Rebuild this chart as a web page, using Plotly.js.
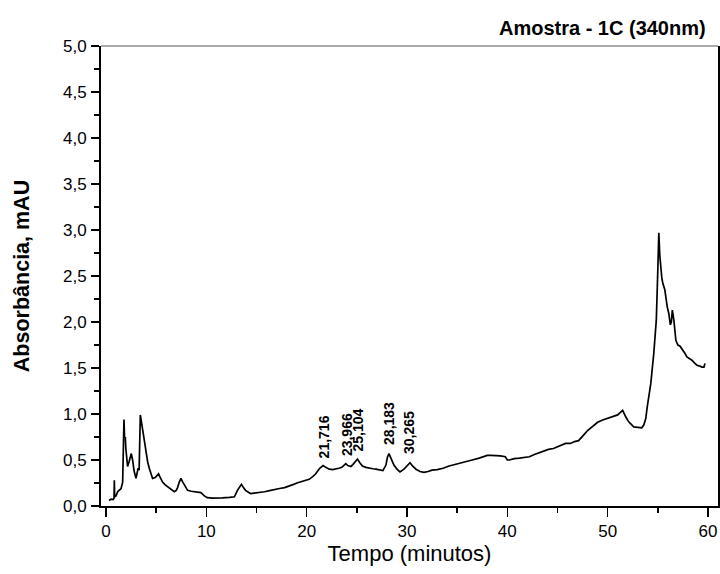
<!DOCTYPE html>
<html>
<head>
<meta charset="utf-8">
<script src="https://cdn.plot.ly/plotly-3.0.1.min.js"></script>
<style>html,body{margin:0;padding:0;background:#fff;}#chart{width:720px;height:574px;}</style>
</head>
<body>
<div id="chart"></div>
<script>
// Retention time (minutes)
var time = [0.3,0.5,0.7,0.8,0.83,0.86,1.0,1.16,1.3,1.5,1.66,1.72,1.79,1.85,1.92,1.98,2.05,2.15,2.3,2.42,2.52,2.65,2.8,2.99,3.1,3.2,3.3,3.42,3.55,3.65,3.8,3.98,4.15,4.31,4.5,4.64,4.9,5.05,5.24,5.4,5.64,5.9,6.14,6.5,6.8,7.0,7.13,7.3,7.47,7.65,7.8,8.13,8.5,8.96,9.2,9.46,9.8,10.1,10.6,11.1,11.6,12.3,12.8,13.1,13.3,13.5,13.7,13.9,14.4,14.9,15.3,15.8,16.3,16.8,17.3,17.8,18.3,18.7,19.1,19.7,20.25,20.6,20.9,21.3,21.64,21.9,22.25,22.6,22.9,23.2,23.5,23.7,23.9,24.1,24.4,24.6,24.85,25.06,25.3,25.56,25.9,26.2,26.6,26.9,27.3,27.6,27.9,28.05,28.2,28.45,28.7,29.0,29.3,29.7,30.0,30.3,30.6,30.9,31.3,31.7,32.1,32.5,33.0,33.6,34.2,34.8,35.3,35.9,36.5,37.2,37.6,38.0,38.4,38.8,39.3,39.8,40.0,40.2,40.7,41.2,41.7,42.2,42.7,43.2,43.6,44.1,44.6,45.1,45.5,45.8,46.3,46.7,47.1,47.3,47.6,48.0,48.5,49.0,49.5,50.0,50.5,51.0,51.3,51.5,51.8,52.1,52.6,53.1,53.4,53.6,53.8,53.95,54.1,54.3,54.6,54.85,55.0,55.1,55.2,55.28,55.4,55.5,55.7,55.94,56.1,56.25,56.35,56.45,56.6,56.8,57.0,57.2,57.4,57.7,57.9,58.2,58.4,58.7,58.9,59.2,59.4,59.6,59.7];
// Absorbance (mAU)
var absorbance = [0.06,0.075,0.07,0.085,0.28,0.10,0.11,0.155,0.17,0.19,0.26,0.55,0.94,0.74,0.75,0.62,0.50,0.43,0.48,0.54,0.57,0.50,0.38,0.30,0.36,0.41,0.39,0.99,0.90,0.83,0.70,0.57,0.48,0.41,0.34,0.30,0.31,0.33,0.35,0.31,0.26,0.23,0.21,0.18,0.155,0.17,0.20,0.26,0.30,0.26,0.23,0.17,0.16,0.155,0.15,0.145,0.11,0.09,0.085,0.083,0.088,0.094,0.10,0.17,0.21,0.235,0.20,0.17,0.135,0.14,0.145,0.155,0.167,0.175,0.19,0.20,0.217,0.235,0.253,0.27,0.29,0.32,0.35,0.41,0.44,0.42,0.40,0.395,0.40,0.41,0.42,0.44,0.46,0.44,0.43,0.45,0.49,0.51,0.47,0.435,0.42,0.41,0.405,0.40,0.395,0.385,0.445,0.53,0.57,0.50,0.445,0.40,0.37,0.40,0.44,0.47,0.43,0.40,0.375,0.365,0.375,0.39,0.395,0.41,0.435,0.45,0.465,0.48,0.50,0.52,0.535,0.55,0.55,0.55,0.545,0.535,0.50,0.50,0.515,0.52,0.525,0.535,0.56,0.58,0.595,0.615,0.625,0.645,0.66,0.68,0.68,0.70,0.71,0.73,0.77,0.82,0.87,0.91,0.935,0.955,0.97,0.99,1.02,1.04,0.97,0.915,0.86,0.855,0.85,0.88,0.95,1.08,1.18,1.33,1.66,2.02,2.56,2.97,2.72,2.60,2.48,2.42,2.35,2.165,2.09,1.97,2.00,2.13,2.02,1.80,1.75,1.74,1.71,1.66,1.62,1.60,1.585,1.55,1.53,1.52,1.51,1.51,1.55];
// Peak labels (retention time text) and label base heights
var peakTimes = [21.716, 23.966, 25.104, 28.183, 30.265];
var peakLabels = ["21,716", "23,966", "25,104", "28,183", "30,265"];
var peakLabelBase = [0.50, 0.52, 0.575, 0.645, 0.545];
var xTickVals = [0, 10, 20, 30, 40, 50, 60];
var yTickVals = [0, 0.5, 1, 1.5, 2, 2.5, 3, 3.5, 4, 4.5, 5];

var FONT = "Liberation Sans, Arial, Helvetica, sans-serif";

var trace = {
  x: time, y: absorbance, type: "scatter", mode: "lines",
  line: {color: "#000", width: 1.7}, hoverinfo: "skip"
};

var annotations = peakTimes.map(function (t, i) {
  return {
    x: t, y: peakLabelBase[i], xref: "x", yref: "y",
    text: peakLabels[i], textangle: -90, showarrow: false,
    xanchor: "center", yanchor: "bottom",
    font: {family: FONT, size: 14, color: "#000", weight: "bold"}
  };
});

var layout = {
  width: 720, height: 574,
  margin: {l: 101, r: 2, t: 46, b: 68},
  paper_bgcolor: "#fff", plot_bgcolor: "#fff",
  separators: ",.",
  showlegend: false,
  font: {family: FONT, color: "#000"},
  title: {
    text: "<b>Amostra - 1C (340nm)</b>",
    font: {family: FONT, size: 20, color: "#000"},
    xref: "paper", x: 0.98, xanchor: "right",
    yref: "container", y: 0.951, yanchor: "middle"
  },
  xaxis: {
    range: [-0.5, 61], tickvals: xTickVals, ticktext: xTickVals.map(String),
    showgrid: false, zeroline: false,
    showline: true, linecolor: "#000", linewidth: 2, mirror: false,
    ticks: "outside", ticklen: 9, tickwidth: 1.5, tickcolor: "#000",
    ticklabelstandoff: 0,
    minor: {dtick: 5, tick0: 0, ticks: "outside", ticklen: 5, tickwidth: 1.5, tickcolor: "#000"},
    tickfont: {family: FONT, size: 17, color: "#000"},
    title: {text: "Tempo (minutos)", font: {family: FONT, size: 22, color: "#000"}, standoff: 3}
  },
  yaxis: {
    range: [0, 5], tickvals: yTickVals, tickformat: ".1f",
    showgrid: false, zeroline: false,
    showline: true, linecolor: "#000", linewidth: 2, mirror: true,
    ticks: "outside", ticklen: 8, tickwidth: 1.5, tickcolor: "#000",
    ticklabelstandoff: 1,
    minor: {dtick: 0.25, tick0: 0, ticks: "outside", ticklen: 5, tickwidth: 1.5, tickcolor: "#000"},
    tickfont: {family: FONT, size: 17, color: "#000"},
    title: {text: "<b>Absorbância, mAU</b>", font: {family: FONT, size: 21.5, color: "#000"}, standoff: 27}
  },
  shapes: [{
    type: "line", xref: "paper", yref: "paper", x0: 0, x1: 1, y0: 1, y1: 1,
    line: {color: "#555", width: 1}
  }],
  annotations: annotations
};

Plotly.newPlot("chart", [trace], layout, {displayModeBar: false, staticPlot: true});
</script>
</body>
</html>
